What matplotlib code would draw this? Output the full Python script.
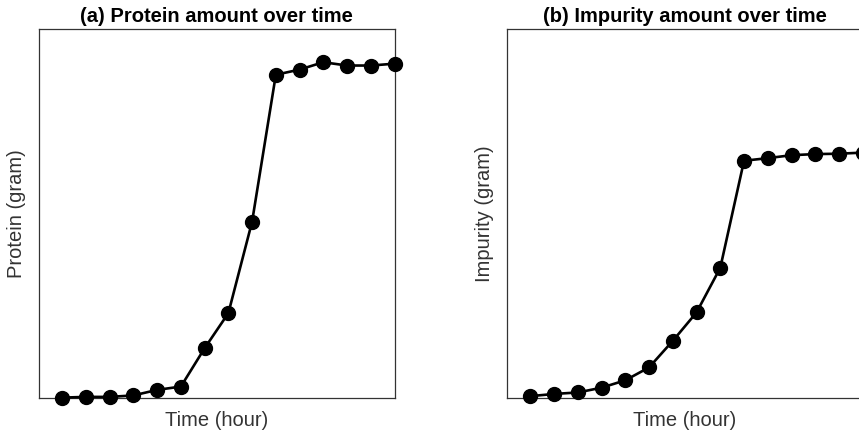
import matplotlib.pyplot as plt

plt.rcParams['font.family'] = ['Liberation Sans', 'DejaVu Sans']

# Sampling times (hour index) and measured amounts (gram)
hours = list(range(1, 16))
protein = [0.1, 0.3, 0.3, 0.7, 2.2, 3.1, 13.5, 23.0, 47.8, 87.6, 89.0, 91.0, 90.1, 90.1, 90.6]
impurity = [0.5, 1.1, 1.5, 2.8, 4.8, 8.3, 15.5, 23.2, 35.3, 64.3, 65.0, 65.8, 66.1, 66.2, 66.5]

fig = plt.figure(figsize=(8.59, 4.33), dpi=100)
W, H = 859, 433

# axes placed in pixel units; the second panel runs slightly past the right edge
boxes = [(38.5, 35, 356, 369), (506.7, 35, 356, 369)]
panels = [
    (protein, '(a) Protein amount over time', 'Protein (gram)'),
    (impurity, '(b) Impurity amount over time', 'Impurity (gram)'),
]

for (x0, y0, w, h), (vals, title, ylabel) in zip(boxes, panels):
    ax = fig.add_axes([x0 / W, y0 / H, w / W, h / H])
    ax.plot(hours, vals, color='black', linewidth=1.9, marker='o',
            markersize=10, clip_on=False, zorder=3)
    ax.set_xlim(0, 15)
    ax.set_ylim(0, 100)
    ax.set_xticks([])
    ax.set_yticks([])
    for sp in ax.spines.values():
        sp.set_color('#333333')
        sp.set_linewidth(0.9)
    ax.set_title(title, fontsize=14.5, fontweight='bold', pad=5)
    ax.set_xlabel('Time (hour)', fontsize=14.5, color='#333333', labelpad=9)
    ax.set_ylabel(ylabel, fontsize=14.5, color='#333333', labelpad=9)

fig.savefig('out.png', dpi=100)
